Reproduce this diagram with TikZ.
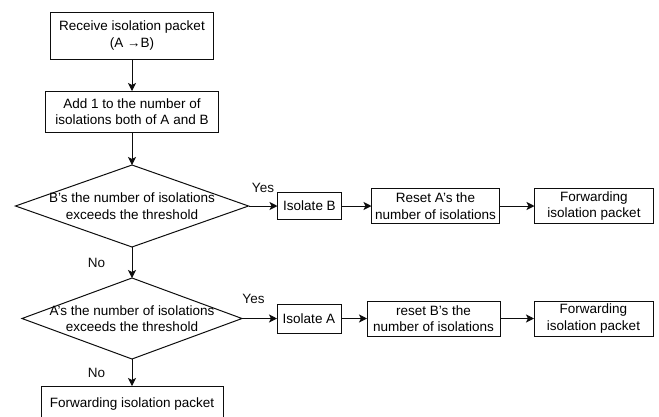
\documentclass[tikz,border=0pt]{standalone}
\usepackage{fontspec}
\setmainfont{Liberation Sans}
\usepackage{tikz}
\usetikzlibrary{arrows.meta, positioning, shapes.geometric}
\usepackage{xcolor}
\definecolor{InkBlack}{gray}{0.05}
\tikzset{%
  flow_block/.style={%
    rectangle,%
    draw=InkBlack,%
    line width=1pt,%
    inner sep=0pt,%
    outer sep=0pt,%
    align=center,%
  },
  flow_decision/.style={%
    diamond,%
    draw=InkBlack,%
    line width=1pt,%
    inner sep=0pt,%
    outer sep=0pt,%
  },
  flow_path/.style={%
    color=InkBlack,%
    line width=1pt,%
    line join=round,%
  },
  annotate/.style={%
    color=InkBlack,%
  },
  arrow/.style={-{Stealth[length=8pt, width=8pt, inset=2pt]}},
}

\begin{document}
\begin{tikzpicture}[x=1pt, y=1pt, font={\fontsize{13.5}{16.5}\selectfont}]

    \useasboundingbox (0, 0) rectangle (659, -416);

    \node [flow_block, minimum width=163, minimum height=47] (Receive) at (132, -35.5)
      {Receive isolation packet\\(A →B)};
    \node [flow_block, minimum width=173, minimum height=41, below = 32 of Receive] (Increment)
      {Add 1 to the number of\\isolations both of A and B};
    \node [flow_decision, minimum width=233, minimum height=82, below = 33 of Increment,
      label={[align=center]center:B's the number of isolations\\exceeds the threshold}] (CheckB) {};
    \node [flow_block, minimum width=64, minimum height=27, right = 29 of CheckB] (IsolateB)
      {Isolate B};
    \node [flow_block, minimum width=128, minimum height=35, right = 30 of IsolateB] (ResetA)
      {Reset A's the\\number of isolations};
    \node [flow_block, minimum width=119, minimum height=35, right = 35 of ResetA] (Forward1)
      {Forwarding\\isolation packet};

    \node [flow_decision, minimum width=220, minimum height=81, below = 31 of CheckB,
      label={[align=center]center:A's the number of isolations\\exceeds the threshold}] (CheckA) {};
    \node [flow_block, minimum width=64, minimum height=29, right = 35 of CheckA] (IsolateA)
      {Isolate A};
    \node [flow_block, minimum width=133, minimum height=35, right = 26 of IsolateA] (ResetB)
      {reset B's the\\number of isolations};
    \node [flow_block, minimum width=119, minimum height=35, right = 34 of ResetB] (Forward2)
      {Forwarding\\isolation packet};

    \node [flow_block, minimum width=182, minimum height=36, below = 27 of CheckA] (Forward3)
      {Forwarding isolation packet};

    \draw [arrow, flow_path]
      (Receive.south)
      --
      (Increment.north);
    \draw [arrow, flow_path]
      (Increment.south)
      --
      (CheckB.north);
    \draw [arrow, flow_path]
      (CheckB.east)
      --
      (IsolateB.west)
      node [annotate, midway, above=10pt] {Yes};
    \draw [arrow, flow_path]
      (IsolateB.east)
      --
      (ResetA.west);
    \draw [arrow, flow_path]
      (ResetA.east)
      --
      (Forward1.west);
    \draw [arrow, flow_path]
      (CheckB.south)
      --
      (CheckA.north)
      node [annotate, midway, left=23pt] {No};

    \draw [arrow, flow_path]
      (CheckA.east)
      --
      (IsolateA.west)
      node [annotate, midway, above=11pt, xshift=-6pt] {Yes};
    \draw [arrow, flow_path]
      (IsolateA.east)
      --
      (ResetB.west);
    \draw [arrow, flow_path]
      (ResetB.east)
      --
      (Forward2.west);
    \draw [arrow, flow_path]
      (CheckA.south)
      --
      (Forward3.north)
      node [annotate, midway, left=23pt] {No};

  \end{tikzpicture}
\end{document}
